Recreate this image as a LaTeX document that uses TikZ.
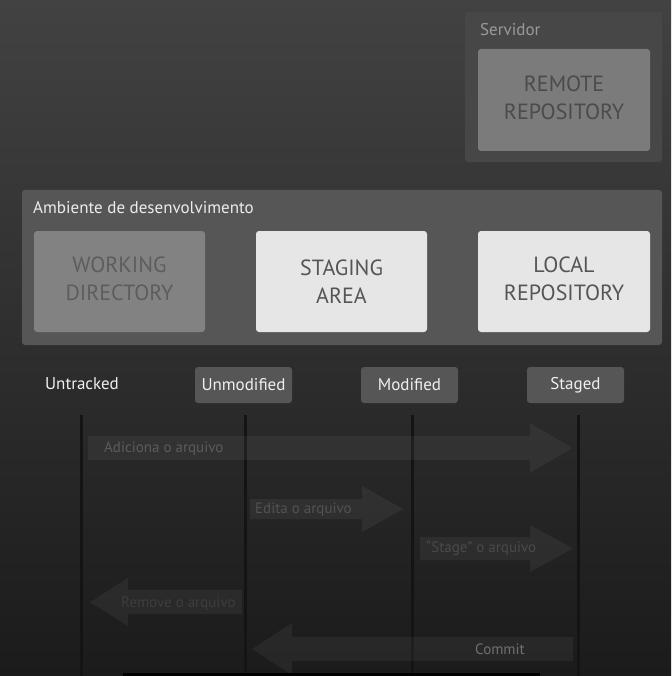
\documentclass[tikz,border=0pt]{standalone}
\usepackage{fontspec}
\setmainfont{PT Sans}
\definecolor{bgtop}{HTML}{424242}
\definecolor{bgmid}{HTML}{383838}
\definecolor{bgbot}{HTML}{1B1B1B}
\definecolor{srvbox}{HTML}{474747}
\definecolor{srvlabel}{HTML}{9A9A9A}
\definecolor{remotefill}{HTML}{7B7B7B}
\definecolor{remotetext}{HTML}{4B4B4B}
\definecolor{envbox}{HTML}{565656}
\definecolor{envlabel}{HTML}{ECECEC}
\definecolor{workfill}{HTML}{828282}
\definecolor{worktext}{HTML}{5D5D5D}
\definecolor{lightfill}{HTML}{E6E6E6}
\definecolor{lighttext}{HTML}{555555}
\definecolor{statefill}{HTML}{565656}
\definecolor{statetext}{HTML}{EFEFEF}
\definecolor{lifeline}{HTML}{141414}
\tikzset{
  panel/.style={rounded corners=3pt, inner sep=0pt, draw=none},
  bigbox/.style={panel, minimum width=171pt, minimum height=101pt},
  boxtext/.style={align=center, inner sep=0pt, font=\fontsize{22}{28}\selectfont},
  statebox/.style={rounded corners=3pt, fill=statefill, minimum width=97pt, minimum height=36pt,
    text=statetext, font=\fontsize{17}{20}\selectfont, inner sep=0pt},
  grouplabel/.style={anchor=west, inner sep=0pt, font=\fontsize{17}{20}\selectfont},
  blockarrow/.style={fill=white, fill opacity=0.05, draw=none},
  arrowtext/.style={anchor=west, inner sep=0pt, font=\fontsize{15}{18}\selectfont},
  lifelinestyle/.style={draw=lifeline, line width=3pt}
}
\begin{document}
\begin{tikzpicture}[x=1pt, y=-1pt]
\useasboundingbox (0,0) rectangle (671,676);
\shade[top color=bgtop, middle color=bgmid, bottom color=bgbot] (0,0) rectangle (671,676);

% Servidor
\node[panel, fill=srvbox, minimum width=197pt, minimum height=150pt] (srv) at (563.5,87) {};
\node[grouplabel, text=srvlabel] (srvlabel) at (480,30) {Servidor};
\node[bigbox, fill=remotefill, minimum width=172pt, minimum height=102pt] (remote) at (564,100) {};
\node[boxtext, text=remotetext] (remotelbl) at ([yshift=2pt]remote.center) {REMOTE\\REPOSITORY};

% Ambiente
\node[panel, fill=envbox, minimum width=640pt, minimum height=155pt] (env) at (342,267.5) {};
\node[grouplabel, text=envlabel] (envlabel) at (33,208) {Ambiente de desenvolvimento};
\node[bigbox, fill=workfill] (work) at (119.5,281.5) {};
\node[boxtext, text=worktext] (worklbl) at ([yshift=2.5pt]work.center) {WORKING\\DIRECTORY};
\node[bigbox, fill=lightfill] (staging) at (341.5,281.5) {};
\node[boxtext, text=lighttext] (staginglbl) at ([yshift=-0.5pt]staging.center) {STAGING\\AREA};
\node[bigbox, fill=lightfill, minimum width=172pt] (local) at (564,281.5) {};
\node[boxtext, text=lighttext] (locallbl) at ([yshift=2.5pt]local.center) {LOCAL\\REPOSITORY};

% States
\node[text=statetext, font=\fontsize{17}{20}\selectfont, inner sep=0pt] (untracked) at (82,384) {Untracked};
\node[statebox] (unmod) at (243.5,385) {Unmodified};
\node[statebox] (mod) at (409.5,385) {Modified};
\node[statebox] (staged) at (575.5,385) {Staged};

% Lifelines
\coordinate (l1t) at (81,415);  \coordinate (l1b) at (81,676);
\coordinate (l2t) at (245,415); \coordinate (l2b) at (245,676);
\coordinate (l3t) at (412,415); \coordinate (l3b) at (412,676);
\coordinate (l4t) at (578,415); \coordinate (l4b) at (578,676);
\draw[lifelinestyle] (l1t) -- (l1b);
\draw[lifelinestyle] (l2t) -- (l2b);
\draw[lifelinestyle] (l3t) -- (l3b);
\draw[lifelinestyle] (l4t) -- (l4b);

% Block arrows
\fill[blockarrow] (88,436) -- (530,436) -- (530,423) -- (572,448) -- (530,473) -- (530,460) -- (88,460) -- cycle;
\node[arrowtext, text=white!36!black] (add) at (104,448.5) {Adiciona o arquivo};

\fill[blockarrow] (250,499) -- (362,499) -- (362,486) -- (403,509) -- (362,532) -- (362,519) -- (250,519) -- cycle;
\node[arrowtext, text=white!32!black] (edit) at (255,509.5) {Edita o arquivo};

\fill[blockarrow] (420,537) -- (530,537) -- (530,525) -- (573,548.5) -- (530,572) -- (530,560) -- (420,560) -- cycle;
\node[arrowtext, text=white!29!black] (stage) at (426,548.5) {“Stage” o arquivo};

\fill[blockarrow] (242,590) -- (128,590) -- (128,578) -- (90,602) -- (128,626) -- (128,614) -- (242,614) -- cycle;
\node[arrowtext, text=white!24!black] (remove) at (121,603.5) {Remove o arquivo};

\fill[blockarrow] (573,637) -- (292,637) -- (292,623) -- (252,649) -- (292,675) -- (292,661) -- (573,661) -- cycle;
\node[arrowtext, text=white!44!black] (commit) at (475,649) {Commit};

% bottom strip
\fill[black] (123,673) rectangle (540,676);
\end{tikzpicture}
\end{document}
